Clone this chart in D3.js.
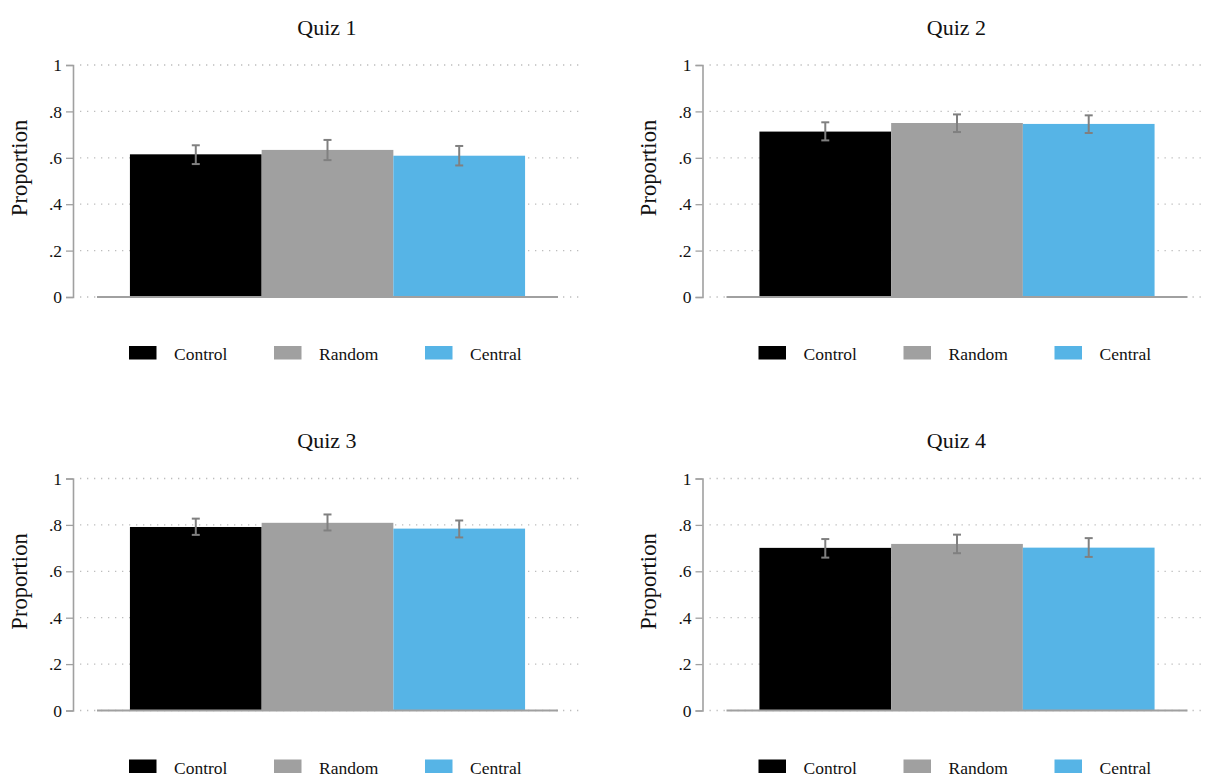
<!DOCTYPE html>
<html>
<head>
<meta charset="utf-8">
<script src="https://cdn.jsdelivr.net/npm/d3@7"></script>
<style>
  html, body { margin: 0; padding: 0; background: #fff; }
  svg, svg text { font-family: 'Liberation Serif', 'Times New Roman', 'DejaVu Serif', serif !important; }
</style>
</head>
<body>
<svg id="chart" width="1205" height="776"></svg>
<script>
const groups = ["Control", "Random", "Central"];
const colors = ["#000000", "#a0a0a0", "#56b4e6"];
const quizTitles = ["Quiz 1", "Quiz 2", "Quiz 3", "Quiz 4"];
const yTicks = [0, 0.2, 0.4, 0.6, 0.8, 1];
const yTickLabels = ["0", ".2", ".4", ".6", ".8", "1"];

const quiz1Mean = [0.615, 0.634, 0.609];
const quiz1Lo   = [0.573, 0.590, 0.567];
const quiz1Hi   = [0.654, 0.677, 0.651];

const quiz2Mean = [0.713, 0.750, 0.746];
const quiz2Lo   = [0.675, 0.711, 0.707];
const quiz2Hi   = [0.753, 0.787, 0.783];

const quiz3Mean = [0.791, 0.809, 0.784];
const quiz3Lo   = [0.757, 0.776, 0.746];
const quiz3Hi   = [0.827, 0.845, 0.819];

const quiz4Mean = [0.701, 0.718, 0.702];
const quiz4Lo   = [0.659, 0.678, 0.662];
const quiz4Hi   = [0.739, 0.758, 0.743];

const panels = [
  { title: quizTitles[0], mean: quiz1Mean, lo: quiz1Lo, hi: quiz1Hi, dx: 0,     dy: 0 },
  { title: quizTitles[1], mean: quiz2Mean, lo: quiz2Lo, hi: quiz2Hi, dx: 629.5, dy: 0 },
  { title: quizTitles[2], mean: quiz3Mean, lo: quiz3Lo, hi: quiz3Hi, dx: 0,     dy: 413.5 },
  { title: quizTitles[3], mean: quiz4Mean, lo: quiz4Lo, hi: quiz4Hi, dx: 629.5, dy: 413.5 }
];

const svg = d3.select("#chart");

const axisX = 73, gridX0 = 80, gridX1 = 581;
const y = d3.scaleLinear().domain([0, 1]).range([297, 65]);
const x = d3.scaleBand().domain(groups).range([97, 558]).paddingInner(0).paddingOuter(0.25);

panels.forEach(p => {
  const g = svg.append("g").attr("transform", `translate(${p.dx},${p.dy})`);

  // title
  g.append("text").attr("x", 327).attr("y", 34.5)
    .attr("text-anchor", "middle").attr("font-size", 22).attr("fill", "#111")
    .text(p.title);

  // gridlines (dotted)
  g.append("g").selectAll("line").data(yTicks).join("line")
    .attr("x1", gridX0).attr("x2", gridX1)
    .attr("y1", d => y(d)).attr("y2", d => y(d))
    .attr("stroke", "#bdbdbd").attr("stroke-width", 1.3)
    .attr("stroke-dasharray", "1.3,5.7");

  // y axis
  const yAxis = d3.axisLeft(y).tickValues(yTicks)
    .tickFormat((d, i) => yTickLabels[i]).tickSize(7).tickPadding(4);
  const ya = g.append("g").attr("transform", `translate(${axisX},0)`).call(yAxis);
  ya.attr("font-family", null);
  ya.select(".domain").attr("stroke", "#a0a0a0").attr("stroke-width", 1.6);
  ya.selectAll(".tick line").attr("stroke", "#a0a0a0").attr("stroke-width", 1.3);
  ya.selectAll(".tick text").attr("font-size", 17.5).attr("fill", "#111");

  // y label
  g.append("text")
    .attr("transform", "translate(26.5,168) rotate(-90)")
    .attr("text-anchor", "middle").attr("font-size", 22.5).attr("fill", "#111")
    .text("Proportion");

  // bars
  g.append("g").selectAll("rect").data(groups).join("rect")
    .attr("x", d => x(d)).attr("width", x.bandwidth())
    .attr("y", (d, i) => y(p.mean[i]))
    .attr("height", (d, i) => y(0) - y(p.mean[i]))
    .attr("fill", (d, i) => colors[i]);

  // baseline
  g.append("line").attr("x1", 97).attr("x2", 558)
    .attr("y1", y(0)).attr("y2", y(0))
    .attr("stroke", "#a0a0a0").attr("stroke-width", 1.8);

  // error bars
  const eb = g.append("g").attr("stroke", "#808080").attr("stroke-width", 2);
  groups.forEach((d, i) => {
    const cx = x(d) + x.bandwidth() / 2;
    eb.append("line").attr("x1", cx).attr("x2", cx)
      .attr("y1", y(p.lo[i])).attr("y2", y(p.hi[i]));
    eb.append("line").attr("x1", cx - 4).attr("x2", cx + 4)
      .attr("y1", y(p.lo[i])).attr("y2", y(p.lo[i]));
    eb.append("line").attr("x1", cx - 4).attr("x2", cx + 4)
      .attr("y1", y(p.hi[i])).attr("y2", y(p.hi[i]));
  });

  // legend
  const legX = [129, 274, 425];
  const lg = g.append("g");
  groups.forEach((d, i) => {
    lg.append("rect").attr("x", legX[i]).attr("y", 346)
      .attr("width", 27.5).attr("height", 13.5).attr("fill", colors[i]);
    lg.append("text").attr("x", legX[i] + 45).attr("y", 360)
      .attr("font-size", 17.5).attr("fill", "#111").text(d);
  });
});
</script>
</body>
</html>
